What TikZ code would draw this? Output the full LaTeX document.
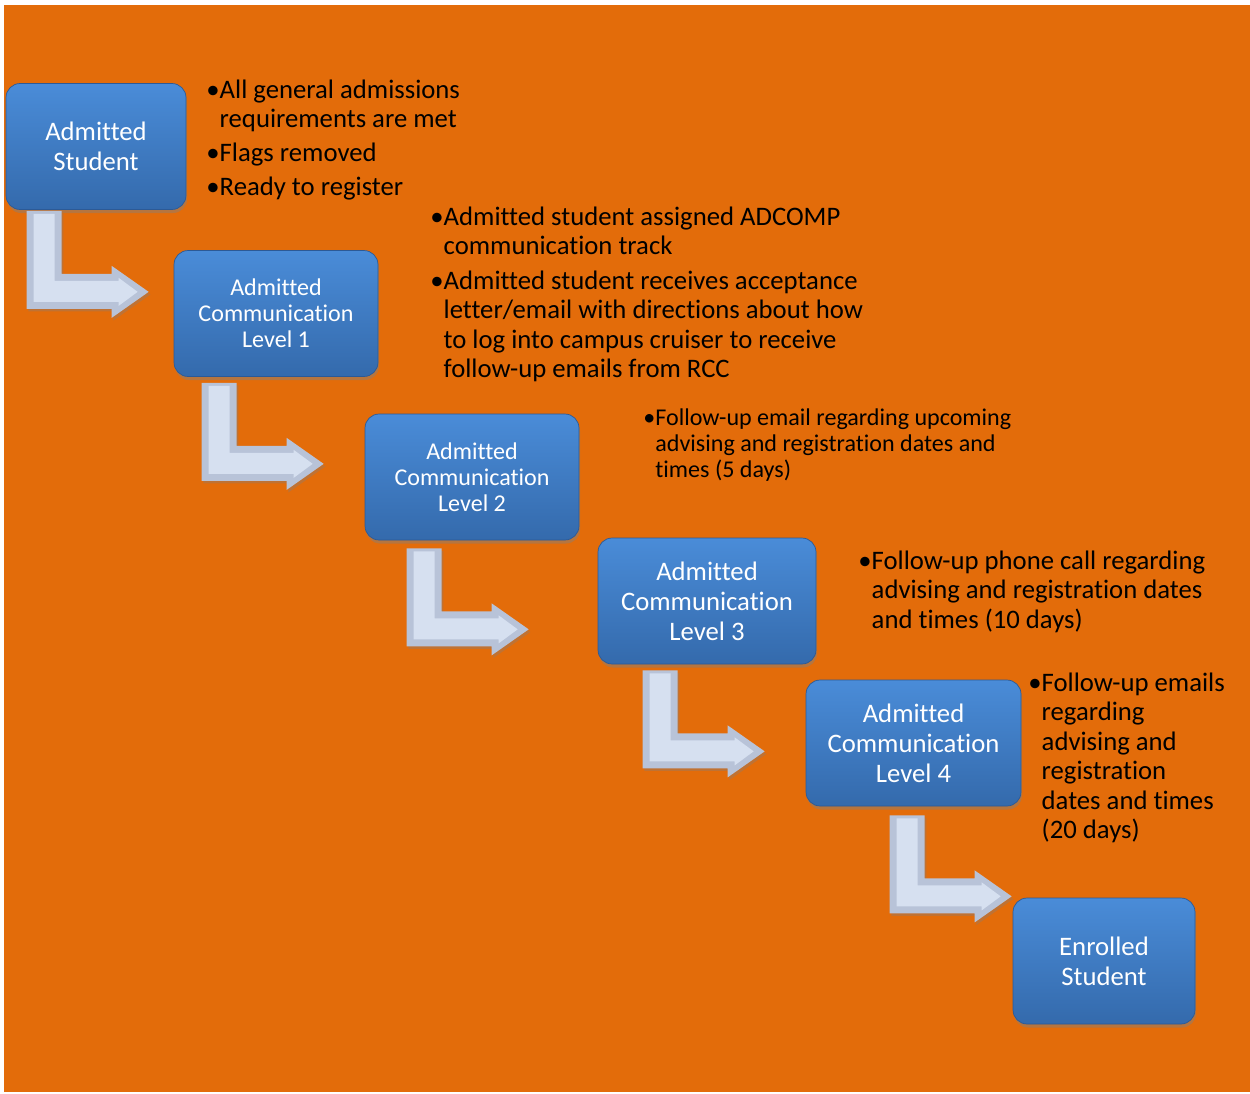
\documentclass[tikz,border=0pt]{standalone}
\usepackage{fontspec}
\setmainfont{Carlito}[Ligatures=NoCommon]
\usetikzlibrary{shadows}

\definecolor{bgorange}{HTML}{E36C0A}
\definecolor{boxtop}{RGB}{74,140,216}
\definecolor{boxbot}{RGB}{52,106,172}
\definecolor{boxline}{RGB}{44,90,150}
\definecolor{arrowout}{RGB}{184,195,216}
\definecolor{arrowin}{RGB}{214,224,240}

\newcommand\bul{\makebox[0.5em][l]{\textbullet}}
\newcommand\ind{\hspace*{0.5em}}

\tikzset{bentarrow/.pic={
  \fill[arrowout, drop shadow={shadow xshift=1pt, shadow yshift=-1.5pt, opacity=0.35}]
    (0,0) -- (35,0) -- (35,63) -- (85,63) -- (85,55) -- (122,81) -- (85,107) -- (85,98) -- (0,98) -- cycle;
  \fill[arrowin] (7,3) -- (28,3) -- (28,70) -- (92,70) -- (92,67) -- (111,81) -- (92,95) -- (92,91) -- (7,91) -- cycle;
}}

\begin{document}
\begin{tikzpicture}[x=0.02cm, y=-0.02cm,
    box/.style={draw=boxline, rounded corners=8pt, top color=boxtop, bottom color=boxbot,
      text=white, align=center, minimum height=2.52cm,
      drop shadow={shadow xshift=0.6pt, shadow yshift=-2pt, opacity=0.45},
      font=\fontsize{15.2}{17}\selectfont},
    smallbox/.style={box, font=\fontsize{13.7}{14.8}\selectfont},
    note/.style={anchor=north west, align=left, inner sep=0pt, font=\fontsize{15.2}{16.8}\selectfont},
    smallnote/.style={note, font=\fontsize{13.7}{14.8}\selectfont}]
    \fill[white] (0,0) rectangle (1250,1093);
    \fill[bgorange] (4,5) rectangle (1250,1092);

    \node[box, minimum width=3.6cm] (s0) at (96,146.5) {Admitted\\Student};
    \node[smallbox, minimum width=4.08cm] (s1) at (276,313.5) {Admitted\\Communication\\Level 1};
    \node[smallbox, minimum width=4.28cm] (s2) at (472,477) {Admitted\\Communication\\Level 2};
    \node[box, minimum width=4.36cm] (s3) at (707,601) {Admitted\\Communication\\Level 3};
    \node[box, minimum width=4.3cm] (s4) at (913.5,743) {Admitted\\Communication\\Level 4};
    \node[box, minimum width=3.64cm] (s5) at (1104,961) {Enrolled\\Student};

    \pic at ([shift={(21,1)}]s0.south west) {bentarrow};
    \pic at ([shift={(28,6)}]s1.south west) {bentarrow};
    \pic at ([shift={(42,8)}]s2.south west) {bentarrow};
    \pic at ([shift={(45,6)}]s3.south west) {bentarrow};
    \pic at ([shift={(84,9)}]s4.south west) {bentarrow};

    \node[note] (t0) at (206,79.5) {\bul All general admissions\\\ind requirements are met\\[2.3pt]
      \bul Flags removed\\[2.3pt]\bul Ready to register};
    \node[note] (t1) at (430,206.5) {\bul Admitted student assigned ADCOMP\\\ind communication track\\[2.6pt]
      \bul Admitted student receives acceptance\\\ind letter/email with directions about how\\
      \ind to log into campus cruiser to receive\\\ind follow-up emails from RCC};
    \node[smallnote] (t2) at (643,408) {\bul Follow-up email regarding upcoming\\\ind advising and registration dates and\\
      \ind times (5 days)};
    \node[note] (t3) at (858,550.5) {\bul Follow-up phone call regarding\\\ind advising and registration dates\\
      \ind and times (10 days)};
    \node[note] (t4) at (1028,672.5) {\bul Follow-up emails\\\ind regarding\\\ind advising and\\\ind registration\\
      \ind dates and times\\\ind (20 days)};
\end{tikzpicture}
\end{document}
